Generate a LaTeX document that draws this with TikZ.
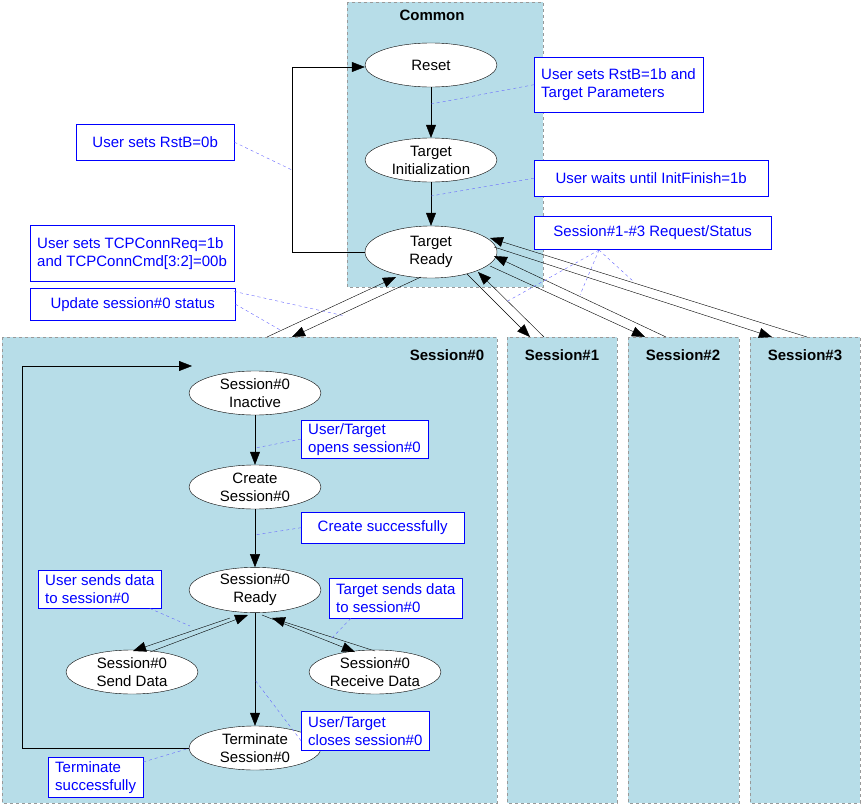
\documentclass[tikz,border=0pt]{standalone}
\usepackage{fontspec}
\setmainfont{Liberation Sans}
\usetikzlibrary{arrows.meta,shapes.geometric}
\definecolor{pane}{HTML}{B7DDE8}
\begin{document}
\begin{tikzpicture}[x=1pt,y=-1pt,
  font=\fontsize{15}{18}\selectfont,
  pane/.style={draw=gray!80,dashed,fill=pane},
  st/.style={draw,ellipse,fill=white,minimum width=132,minimum height=44,inner sep=0pt,align=center},
  lab/.style={draw=blue,fill=white,text=blue,align=left,inner xsep=7pt,inner ysep=0pt,anchor=north west},
  ttl/.style={font=\fontsize{15}{18}\selectfont\bfseries},
  ar/.style={-{Triangle[length=13pt,width=10pt]}},
  ld/.style={blue!60,dashed}]
\useasboundingbox (0,0) rectangle (863,806);
% panes
\draw[pane] (347,2) rectangle (543,287);
\node[ttl] (tc) at (432,15) {Common};
\draw[pane] (2,337) rectangle (497,803);
\draw[pane] (507,337) rectangle (617,803);
\draw[pane] (628,337) rectangle (739,803);
\draw[pane] (750,337) rectangle (860,803);
\node[ttl] (t0) at (447,355) {Session\#0};
\node[ttl] (t1) at (562,355) {Session\#1};
\node[ttl] (t2) at (683,355) {Session\#2};
\node[ttl] (t3) at (805,355) {Session\#3};
% states
\node[st] (reset) at (431,65) {Reset};
\node[st] (init) at (431,160) {Target\\Initialization};
\node[st,minimum height=52] (ready) at (431,252) {Target\\Ready};
\node[st] (inact) at (255,393) {Session\#0\\Inactive};
\node[st] (create) at (255,487) {Create\\Session\#0};
\node[st] (sready) at (255,590) {Session\#0\\Ready};
\node[st] (send) at (132,672) {Session\#0\\Send Data};
\node[st] (recv) at (375,672) {Session\#0\\Receive Data};
\node[st] (term) at (255,748) {Terminate\\Session\#0};
% common arrows
\draw[ar] (reset) -- (init);
\draw[ar] (init) -- (ready);
\coordinate (la) at (292,252); \coordinate (lb) at (292,67);
\draw[ar] (ready.west) -- (la) -- (lb) -- (reset.west |- lb);
% to sessions
\coordinate (s0a) at (267,337); \coordinate (s0b) at (292,337);
\coordinate (r0a) at (396,277); \coordinate (r0b) at (421,277);
\draw[ar] (s0a) -- (r0a);
\draw[ar] (r0b) -- (s0b);
\coordinate (s1a) at (530,337); \coordinate (s1b) at (544,337);
\coordinate (r1a) at (467,274); \coordinate (r1b) at (478,272);
\draw[ar] (r1a) -- (s1a);
\draw[ar] (s1b) -- (r1b);
\coordinate (s2a) at (645,337); \coordinate (s2b) at (666,337);
\coordinate (r2a) at (490,266); \coordinate (r2b) at (494,256);
\draw[ar] (r2a) -- (s2a);
\draw[ar] (s2b) -- (r2b);
\coordinate (s3a) at (772,337); \coordinate (s3b) at (807,337);
\coordinate (r3a) at (494,247); \coordinate (r3b) at (490,238);
\draw[ar] (r3a) -- (s3a);
\draw[ar] (s3b) -- (r3b);
% session arrows
\draw[ar] (inact) -- (create);
\draw[ar] (create) -- (sready);
\draw[ar] (sready) -- (term);
\coordinate (p1) at (230,618); \coordinate (p2) at (133,651);
\coordinate (p3) at (150,652); \coordinate (p4) at (248,615);
\draw[ar] (p1) -- (p2);
\draw[ar] (p3) -- (p4);
\coordinate (q1) at (262,615); \coordinate (q2) at (355,652);
\coordinate (q3) at (375,651); \coordinate (q4) at (272,618);
\draw[ar] (q3) -- (q4);
\draw[ar] (q1) -- (q2);
\coordinate (lc) at (22,748); \coordinate (ld) at (22,366);
\draw[ar] (term.west) -- (lc) -- (ld) -- (192,366);
% labels
\node[lab,minimum height=55] (l1) at (534,57) {User sets RstB=1b and\\Target Parameters};
\node[lab,minimum width=158,minimum height=36,align=center] (l2) at (76,124) {User sets RstB=0b};
\node[lab,minimum width=234,minimum height=36,align=center] (l3) at (534,160) {User waits until InitFinish=1b};
\node[lab,minimum width=237,minimum height=33,align=center] (l4) at (534,216) {Session\#1-\#3 Request/Status};
\node[lab,minimum height=56] (l5) at (30,225) {User sets TCPConnReq=1b\\and TCPConnCmd[3:2]=00b};
\node[lab,minimum width=205,minimum height=32] (l6) at (30,288) {Update session\#0 status};
\node[lab,minimum height=38] (l7) at (301,420) {User/Target\\opens session\#0};
\node[lab,minimum width=163,minimum height=31] (l8) at (301,512) {Create successfully};
\node[lab,minimum height=38] (l9) at (38,570) {User sends data\\to session\#0};
\node[lab,minimum height=40] (l10) at (329,578) {Target sends data\\to session\#0};
\node[lab,minimum height=39] (l11) at (301,711) {User/Target\\closes session\#0};
\node[lab,minimum height=40] (l12) at (48,757) {Terminate\\successfully};
% leaders
\draw[ld] (l1.west) -- (431,104);
\draw[ld] (l2.east) -- (292,170);
\draw[ld] (l3.west) -- (431,196);
\coordinate (ap) at (599,250);
\draw[ld] (ap) -- (506,302);
\draw[ld] (ap) -- (580,295);
\draw[ld] (ap) -- (634,282);
\draw[ld] ([yshift=-10pt]l5.south east) -- (345,316);
\draw[ld] (l6.east) -- (282,331);
\draw[ld] (l7.west) -- (255,448);
\draw[ld] (l8.west) -- (255,535);
\draw[ld] ([xshift=50pt]l9.south) -- (190,626);
\draw[ld] ([xshift=-45pt]l10.south) -- (330,640);
\draw[ld] ([yshift=-10pt]l11.west) -- (255,680);
\draw[ld] ([yshift=-5pt]l12.north east) -- (190,748);
\end{tikzpicture}
\end{document}
